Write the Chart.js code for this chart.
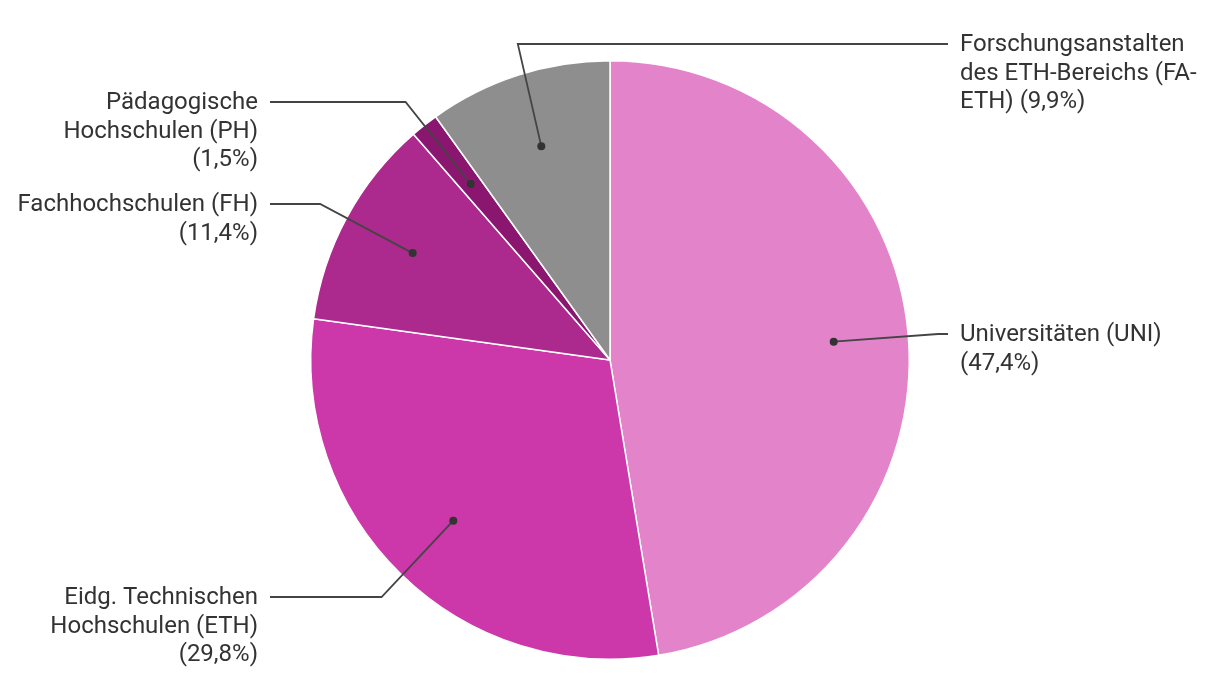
<!DOCTYPE html>
<html>
<head>
<meta charset="utf-8">
<script src="https://cdn.jsdelivr.net/npm/chart.js@4"></script>
<style>
  html, body { margin: 0; padding: 0; background: #fff; }
  #wrap { width: 1220px; height: 700px; }
</style>
</head>
<body>
<div id="wrap"><canvas id="pie"></canvas></div>
<script>
// Daten
const kategorien = ["Universitäten (UNI)", "Eidg. Technischen Hochschulen (ETH)", "Fachhochschulen (FH)", "Pädagogische Hochschulen (PH)", "Forschungsanstalten des ETH-Bereichs (FA-ETH)"];
const anteile = [47.4, 29.8, 11.4, 1.5, 9.9];
const labelZeilen = [
  ["Universitäten (UNI)", "(47,4%)"],
  ["Eidg. Technischen", "Hochschulen (ETH)", "(29,8%)"],
  ["Fachhochschulen (FH)", "(11,4%)"],
  ["Pädagogische", "Hochschulen (PH)", "(1,5%)"],
  ["Forschungsanstalten", "des ETH-Bereichs (FA-", "ETH) (9,9%)"]
];
const farben = ["#E384CB", "#CC37AA", "#AC2A8D", "#8A1670", "#8E8E8E"];

// Layout der Beschriftungen (y der ersten Zeile, Seite)
const labelY = [334, 597, 204, 102, 44];
const labelSeite = ["r", "l", "l", "l", "r"];

const leaderPlugin = {
  id: "leader",
  afterDraw(chart) {
    const ctx = chart.ctx;
    const arcs = chart.getDatasetMeta(0).data;
    ctx.save();
    ctx.font = "24px Roboto";
    ctx.textBaseline = "middle";
    arcs.forEach((arc, i) => {
      const cx = arc.x, cy = arc.y, R = arc.outerRadius;
      const mid = (arc.startAngle + arc.endAngle) / 2;
      const dx = cx + Math.cos(mid) * R * 0.75;
      const dy = cy + Math.sin(mid) * R * 0.75;
      const ly = labelY[i];
      const r2 = R * 1.1;
      const off = Math.sqrt(Math.max(r2 * r2 - (ly - cy) * (ly - cy), 0));
      const right = labelSeite[i] === "r";
      const ex = Math.cos(mid) >= 0 ? cx + off : cx - off;
      const endX = right ? 948 : 270;
      ctx.strokeStyle = "#444";
      ctx.lineWidth = 1.8;
      ctx.beginPath();
      ctx.moveTo(dx, dy);
      ctx.lineTo(ex, ly);
      ctx.lineTo(endX, ly);
      ctx.stroke();
      ctx.fillStyle = "#333";
      ctx.beginPath();
      ctx.arc(dx, dy, 4, 0, Math.PI * 2);
      ctx.fill();
      ctx.textAlign = right ? "left" : "right";
      const tx = right ? 960 : 258;
      labelZeilen[i].forEach((z, k) => {
        ctx.fillText(z, tx, ly + 1 + k * 28.5);
      });
    });
    ctx.restore();
  }
};

new Chart(document.getElementById("pie").getContext("2d"), {
  type: "pie",
  data: {
    labels: kategorien,
    datasets: [{ data: anteile, backgroundColor: farben, borderColor: "#fff", borderWidth: 1.5 }]
  },
  options: {
    responsive: true, maintainAspectRatio: false, animation: false,
    layout: { padding: { top: 60, bottom: 40 } },
    plugins: { legend: { display: false }, tooltip: { enabled: false } }
  },
  plugins: [leaderPlugin]
});
</script>
</body>
</html>
